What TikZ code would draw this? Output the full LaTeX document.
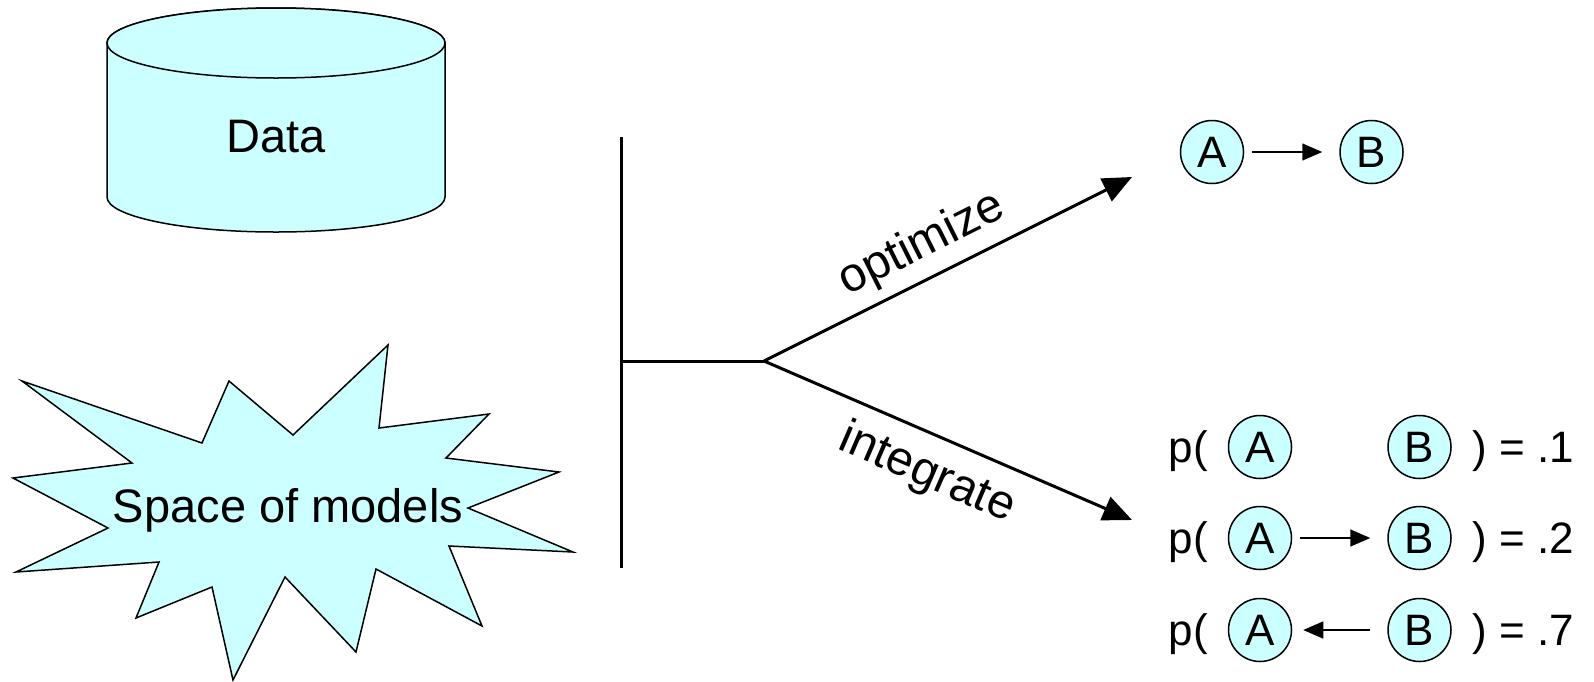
\documentclass[tikz,border=0pt]{standalone}
\usepackage{fontspec}
\setmainfont{Liberation Sans}
\usetikzlibrary{arrows.meta,positioning}
\usepackage{xcolor}
\definecolor{Pale}{RGB}{204,255,255}
\newcommand{\figfont}{\fontsize{47}{55}\selectfont}
\newcommand{\grfont}{\fontsize{44}{52}\selectfont}
\newcommand{\lblfont}{\fontsize{48}{56}\selectfont}
\tikzset{
  gnode/.style={circle,draw=black,fill=Pale,line width=1.5pt,
                minimum size=63pt,inner sep=0pt,font=\grfont},
  ptxt/.style={inner sep=0pt,font=\grfont},
  elbl/.style={sloped,font=\lblfont},
  burst/.style={draw=black,fill=Pale,line width=1.5pt},
  gedge/.style={-{Triangle[length=20pt,width=17pt]},line width=1.5pt,
                shorten <=8pt,shorten >=17pt},
  bedge/.style={-{Triangle[length=29pt,width=25pt]},line width=3pt},
  tline/.style={line width=3pt},
}

\begin{document}
\begin{tikzpicture}[x=1pt,y=-1pt,font=\figfont]
    \useasboundingbox (0,0) rectangle (1594,681);
    % data store
    \draw[burst] (107,43) -- (107,197)
      arc[start angle=180,end angle=360,x radius=169pt,y radius=35pt]
      -- (445,43)
      arc[start angle=0,end angle=180,x radius=169pt,y radius=35pt] -- cycle;
    \draw[burst] (276,43) ellipse[x radius=169pt,y radius=35pt];
    \node (data) at (276,137) {Data};
    % model space
    \draw[burst] (22,381) -- (202,443) -- (229,381) -- (293,435) -- (388,345)
      -- (379,428) -- (489,414) -- (446,458) -- (559,472) -- (468,508)
      -- (573,552) -- (449,546) -- (482,626) -- (376,569) -- (356,652)
      -- (285,577) -- (233,680) -- (212,587) -- (136,618) -- (159,562)
      -- (16,572) -- (108,528) -- (13,478) -- (132,463) -- cycle;
    \node (space) at (288,510) {Space of models};
    % fork
    \coordinate (bartop) at (621,137);
    \coordinate (barbot) at (621,568);
    \coordinate (barmid) at (621,361);
    \coordinate (fork) at (764,361);
    \coordinate (opttip) at (1132,177);
    \coordinate (inttip) at (1132,520);
    \draw[tline] (bartop) -- (barbot);
    \draw[tline] (barmid) -- (fork);
    \draw[bedge] (fork) -- node[elbl,above=6pt,pos=.47] {optimize} (opttip);
    \draw[bedge] (fork) -- node[elbl,below=12pt,pos=.485] {integrate} (inttip);
    % best graph
    \node[gnode] (a0) at (1212,152) {A};
    \node[gnode,right=95pt of a0] (b0) {B};
    \draw[gedge] (a0) -- (b0);
    % posterior over graphs
    \node[gnode] (a1) at (1260,447) {A};
    \node[gnode,right=95pt of a1] (b1) {B};
    \node[gnode] (a2) at (1260,538) {A};
    \node[gnode,right=95pt of a2] (b2) {B};
    \node[gnode] (a3) at (1260,630) {A};
    \node[gnode,right=95pt of a3] (b3) {B};
    \draw[gedge] (a2) -- (b2);
    \draw[gedge,shorten <=17pt,shorten >=11pt] (b3) -- (a3);
    \node[ptxt,anchor=base east] (p1) at ([xshift=-52pt]a1.base) {p(};
    \node[ptxt,anchor=base east] (p2) at ([xshift=-52pt]a2.base) {p(};
    \node[ptxt,anchor=base east] (p3) at ([xshift=-52pt]a3.base) {p(};
    \node[ptxt,anchor=base west] (q1) at ([xshift=53pt]b1.base) {) = .1};
    \node[ptxt,anchor=base west] (q2) at ([xshift=53pt]b2.base) {) = .2};
    \node[ptxt,anchor=base west] (q3) at ([xshift=53pt]b3.base) {) = .7};
\end{tikzpicture}
\end{document}
